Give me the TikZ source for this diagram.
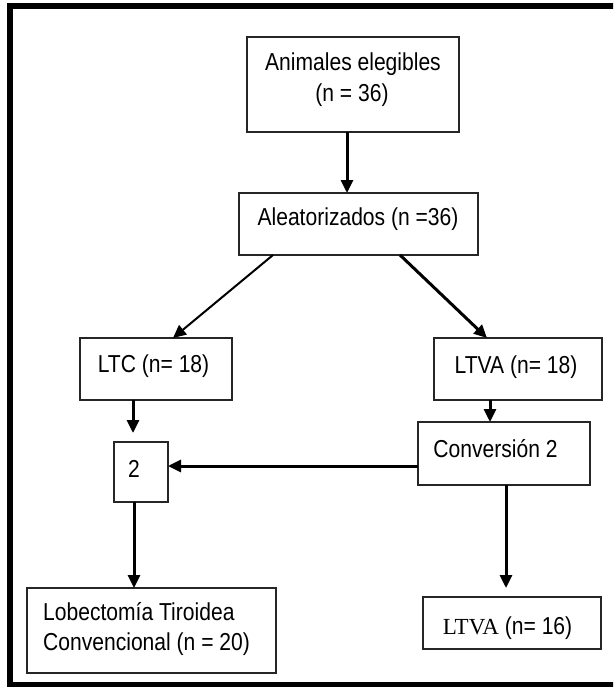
\documentclass[tikz,border=0pt]{standalone}
\usepackage{fontspec}
\setmainfont[FakeStretch=0.86]{Liberation Sans}
\newfontfamily\serifLT{Liberation Serif}
\usetikzlibrary{arrows.meta}
\tikzset{
  box/.style={draw=black!85, line width=1.3pt, inner sep=0pt, outer sep=0pt},
  lbl/.style={inner sep=0pt, font=\fontsize{24.5}{31}\selectfont},
  arr/.style={line width=3pt, -{Triangle[length=13pt,width=12pt]}},
  thinarr/.style={line width=2pt, -{Triangle[length=13pt,width=12pt]}},
}
\begin{document}
\begin{tikzpicture}[x=1pt, y=-1pt]
\useasboundingbox (0,0) rectangle (613,687);
\begin{scope}
\clip (0,0) rectangle (613,687);
\draw[line width=6pt] (10,6.5) rectangle (630,685);
\end{scope}
% boxes
\node[box, minimum width=212pt, minimum height=95pt] (box1) at (353,84.5) {};
\node[box, minimum width=239pt, minimum height=62pt] (box2) at (358.5,224) {};
\node[box, minimum width=152pt, minimum height=62pt] (ltc) at (156,369) {};
\node[box, minimum width=168pt, minimum height=62pt] (ltva) at (518,369) {};
\node[box, minimum width=54pt, minimum height=60pt] (two) at (141,472) {};
\node[box, minimum width=172pt, minimum height=63pt] (conv) at (504,453.5) {};
\node[box, minimum width=249pt, minimum height=85pt] (lob) at (151.5,630.5) {};
\node[box, minimum width=178pt, minimum height=52pt] (ltvb) at (512,623) {};
% labels
\node[lbl, anchor=base] (t1a) at (353,71) {Animales elegibles};
\node[lbl, anchor=base] (t1b) at (352,102) {(n = 36)};
\node[lbl, anchor=base] (t2) at (358,225) {Aleatorizados (n =36)};
\node[lbl, anchor=base] (t3) at (153.5,372) {LTC (n= 18)};
\node[lbl, anchor=base] (t4) at (516,373) {LTVA (n= 18)};
\node[lbl, anchor=base] (t5) at (495.5,457) {Conversión 2};
\node[lbl, anchor=base] (t6) at (134,477) {2};
\node[lbl, anchor=base west] (t7a) at (43,620) {Lobectomía Tiroidea};
\node[lbl, anchor=base west] (t7b) at (43,650) {Convencional (n = 20)};
\node[lbl, anchor=base] (t8) at (507.5,634) {{\serifLT\fontsize{23}{31}\selectfont LTVA} (n= 16)};
% connectors
\draw[arr] ([xshift=-6pt]box1.south) -- ([xshift=-11.5pt]box2.north);
\draw[thinarr] ([xshift=-85.5pt]box2.south) -- ([xshift=17pt]ltc.north);
\draw[arr] ([xshift=41.5pt]box2.south) -- ([xshift=-31pt]ltva.north);
\draw[arr, shorten >=9pt] ([xshift=-23pt]ltc.south) -- ([xshift=-8pt]two.north);
\draw[arr] ([xshift=-28pt]ltva.south) -- ([xshift=-14pt]conv.north);
\draw[arr] ([yshift=-12.5pt]conv.west) -- ([yshift=6pt]two.east);
\draw[arr, shorten >=9pt] ([xshift=2pt]conv.south) -- ([xshift=-6pt]ltvb.north);
\draw[arr] ([xshift=-7pt]two.south) -- ([xshift=-17.5pt]lob.north);
\end{tikzpicture}
\end{document}
